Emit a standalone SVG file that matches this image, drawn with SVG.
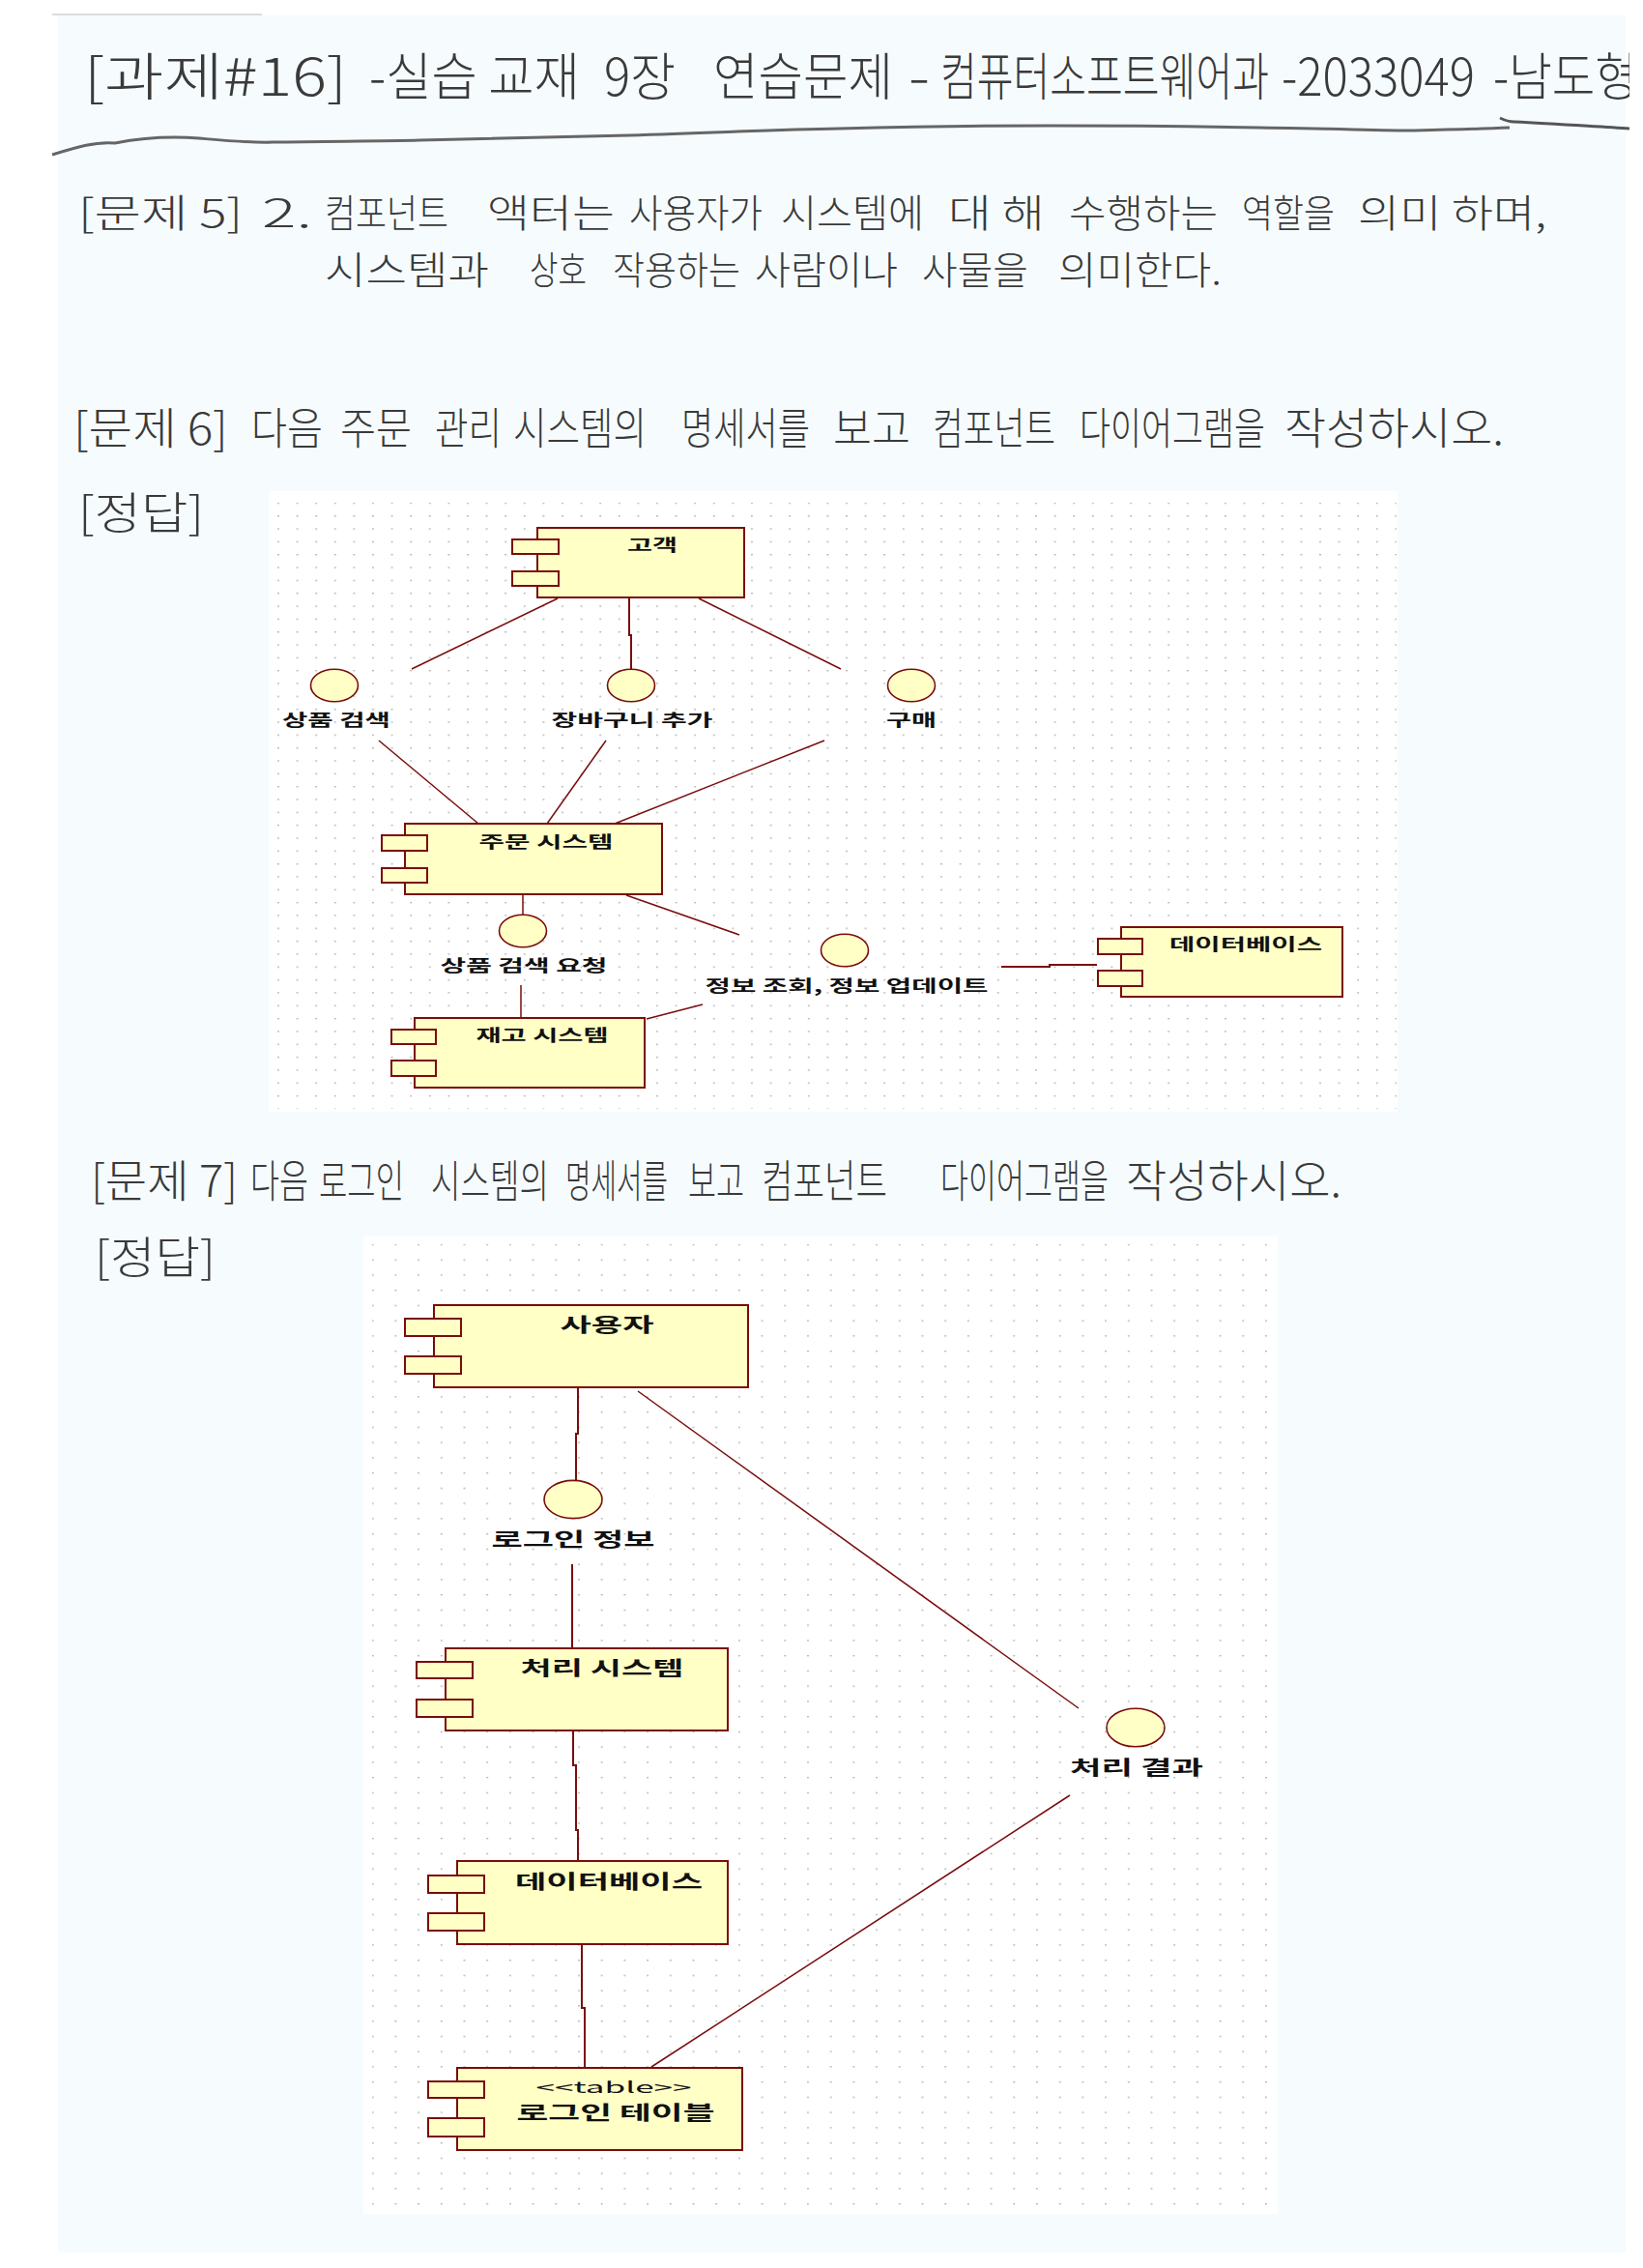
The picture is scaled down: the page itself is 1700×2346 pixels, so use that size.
<svg xmlns="http://www.w3.org/2000/svg" width="1700" height="2346" viewBox="0 0 1700 2346">
<defs>
<style>
.hw{font-family:"Noto Sans CJK KR","Noto Sans",sans-serif;font-weight:300;fill:#3a3a3a}
.box{fill:#ffffc6;stroke:#7a0d0d;stroke-width:2}
.ifc{fill:#ffffc6;stroke:#7a0d0d;stroke-width:1.6}
.lbl{font-family:"Noto Sans CJK KR","Noto Sans",sans-serif;font-weight:700;fill:#111;text-anchor:middle}
.l1{font-size:17px}
.l2{font-size:20px}
.cn{fill:none;stroke:#7a0d0d;stroke-width:1.5}
.cn2{fill:none;stroke:#7a0d0d;stroke-width:2}
</style>
<pattern id="g1" x="287" y="519.7" width="19.6" height="13.33" patternUnits="userSpaceOnUse"><rect width="2" height="1.4" fill="#b8b8b8"/></pattern>
<pattern id="g2" x="384.7" y="1286.7" width="23.7" height="15.75" patternUnits="userSpaceOnUse"><rect width="2" height="1.4" fill="#b8b8b8"/></pattern>
<clipPath id="pg"><rect x="0" y="0" width="1686" height="2346"/></clipPath>
</defs>
<rect width="1700" height="2346" fill="#ffffff"/>
<rect x="60" y="16" width="1622" height="2314" fill="#f6fcfe"/>
<line x1="54" y1="15" x2="271" y2="15" stroke="#dcdcdc" stroke-width="2"/>

<!-- handwritten header -->
<g clip-path="url(#pg)">
<text class="hw" font-size="38" y="99" transform="matrix(1,0,0,1.42,0,-41.58)"><tspan x="87" textLength="272" lengthAdjust="spacingAndGlyphs">[과제#16]</tspan><tspan x="382" textLength="218" lengthAdjust="spacingAndGlyphs">-실습 교재</tspan><tspan x="625" textLength="74" lengthAdjust="spacingAndGlyphs">9장</tspan><tspan x="738" textLength="186" lengthAdjust="spacingAndGlyphs">연습문제</tspan><tspan x="940" textLength="22" lengthAdjust="spacingAndGlyphs">-</tspan><tspan x="973" textLength="340" lengthAdjust="spacingAndGlyphs">컴퓨터소프트웨어과</tspan><tspan x="1326" textLength="200" lengthAdjust="spacingAndGlyphs">-2033049</tspan><tspan x="1545" textLength="150" lengthAdjust="spacingAndGlyphs">-남도형</tspan></text>
</g>
<path d="M54,160 C80,152 100,146 119,148 C150,142 180,141 206,143 C240,146 260,148 282,147 C350,146 400,146 434,145 C520,143 600,141 651,140 C750,137 800,134 868,133 C950,131 1020,130 1085,130 C1180,130 1250,131 1302,132 C1380,133 1430,135 1464,135 C1510,134 1540,133 1562,132" fill="none" stroke="#666" stroke-width="3"/>
<path d="M1552,122 C1558,125 1562,126 1567,126 C1610,128 1650,131 1686,133" fill="none" stroke="#555" stroke-width="3"/>

<text class="hw" font-size="36" y="235" transform="matrix(1,0,0,1.11,0,-25.85)"><tspan x="81" textLength="170" lengthAdjust="spacingAndGlyphs">[문제 5]</tspan><tspan x="271" textLength="52" lengthAdjust="spacingAndGlyphs">2.</tspan><tspan x="336" textLength="128" lengthAdjust="spacingAndGlyphs">컴포넌트</tspan><tspan x="504" textLength="132" lengthAdjust="spacingAndGlyphs">액터는</tspan><tspan x="651" textLength="138" lengthAdjust="spacingAndGlyphs">사용자가</tspan><tspan x="808" textLength="148" lengthAdjust="spacingAndGlyphs">시스템에</tspan><tspan x="981" textLength="100" lengthAdjust="spacingAndGlyphs">대 해</tspan><tspan x="1106" textLength="154" lengthAdjust="spacingAndGlyphs">수행하는</tspan><tspan x="1285" textLength="96" lengthAdjust="spacingAndGlyphs">역할을</tspan><tspan x="1405" textLength="195" lengthAdjust="spacingAndGlyphs">의미 하며,</tspan></text>
<text class="hw" font-size="36" y="294" transform="matrix(1,0,0,1.11,0,-32.34)"><tspan x="336" textLength="170" lengthAdjust="spacingAndGlyphs">시스템과</tspan><tspan x="548" textLength="59" lengthAdjust="spacingAndGlyphs">상호</tspan><tspan x="634" textLength="132" lengthAdjust="spacingAndGlyphs">작용하는</tspan><tspan x="781" textLength="148" lengthAdjust="spacingAndGlyphs">사람이나</tspan><tspan x="954" textLength="110" lengthAdjust="spacingAndGlyphs">사물을</tspan><tspan x="1095" textLength="169" lengthAdjust="spacingAndGlyphs">의미한다.</tspan></text>

<text class="hw" font-size="35" y="460" transform="matrix(1,0,0,1.31,0,-142.6)"><tspan x="76" textLength="160" lengthAdjust="spacingAndGlyphs">[문제 6]</tspan><tspan x="260" textLength="74" lengthAdjust="spacingAndGlyphs">다음</tspan><tspan x="352" textLength="74" lengthAdjust="spacingAndGlyphs">주문</tspan><tspan x="450" textLength="69" lengthAdjust="spacingAndGlyphs">관리</tspan><tspan x="531" textLength="138" lengthAdjust="spacingAndGlyphs">시스템의</tspan><tspan x="705" textLength="133" lengthAdjust="spacingAndGlyphs">명세서를</tspan><tspan x="862" textLength="80" lengthAdjust="spacingAndGlyphs">보고</tspan><tspan x="965" textLength="127" lengthAdjust="spacingAndGlyphs">컴포넌트</tspan><tspan x="1117" textLength="192" lengthAdjust="spacingAndGlyphs">다이어그램을</tspan><tspan x="1329" textLength="227" lengthAdjust="spacingAndGlyphs">작성하시오.</tspan></text>
<text class="hw" font-size="46" x="81" y="547" textLength="130" lengthAdjust="spacingAndGlyphs">[정답]</text>

<text class="hw" font-size="31" y="1238" transform="matrix(1,0,0,1.48,0,-594.24)"><tspan x="94" textLength="152" lengthAdjust="spacingAndGlyphs">[문제 7]</tspan><tspan x="259" textLength="60" lengthAdjust="spacingAndGlyphs">다음</tspan><tspan x="330" textLength="88" lengthAdjust="spacingAndGlyphs">로그인</tspan><tspan x="446" textLength="122" lengthAdjust="spacingAndGlyphs">시스템의</tspan><tspan x="585" textLength="106" lengthAdjust="spacingAndGlyphs">명세서를</tspan><tspan x="712" textLength="58" lengthAdjust="spacingAndGlyphs">보고</tspan><tspan x="788" textLength="130" lengthAdjust="spacingAndGlyphs">컴포넌트</tspan><tspan x="973" textLength="174" lengthAdjust="spacingAndGlyphs">다이어그램을</tspan><tspan x="1165" textLength="223" lengthAdjust="spacingAndGlyphs">작성하시오.</tspan></text>
<text class="hw" font-size="46" x="98" y="1317" textLength="125" lengthAdjust="spacingAndGlyphs">[정답]</text>

<!-- diagram 1 canvas -->
<rect x="278" y="508" width="1168" height="642" fill="#ffffff"/>
<rect x="287" y="519.7" width="1158" height="627" fill="url(#g1)"/>
<!-- diagram 2 canvas -->
<rect x="376" y="1279" width="946" height="1011" fill="#ffffff"/>
<rect x="384.7" y="1286.7" width="928" height="995" fill="url(#g2)"/>

<g id="connectors">
<line class="cn" x1="577" y1="619" x2="426" y2="692"/>
<polyline class="cn2" points="651,619 651,657 653,657 653,693"/>
<line class="cn" x1="723" y1="619" x2="870" y2="692"/>
<line class="cn" x1="392" y1="766" x2="495" y2="852"/>
<line class="cn" x1="627" y1="766" x2="566" y2="852"/>
<line class="cn" x1="853" y1="766" x2="636" y2="852"/>
<line class="cn" x1="541" y1="925" x2="541" y2="947"/>
<line class="cn" x1="539" y1="1019" x2="539" y2="1053"/>
<line class="cn" x1="648" y1="926" x2="765" y2="967"/>
<line class="cn" x1="727" y1="1039" x2="669" y2="1054"/>
<polyline class="cn2" points="1036,1000 1086,1000 1086,998 1135,998"/>
<polyline class="cn2" points="598,1435 598,1483 596,1483 596,1532"/>
<line class="cn2" x1="592" y1="1618" x2="592" y2="1705"/>
<line class="cn" x1="660" y1="1439" x2="1116" y2="1767"/>
<polyline class="cn2" points="593,1790 593,1826 596,1826 596,1893 598,1893 598,1925"/>
<polyline class="cn2" points="602,2011 602,2077 605,2077 605,2139"/>
<line class="cn" x1="1107" y1="1857" x2="674" y2="2138"/>
</g>

<!-- diagram 1 nodes -->
<g id="customer">
<rect class="box" x="556" y="546" width="214" height="72"/>
<rect class="box" x="530" y="558" width="48" height="15"/>
<rect class="box" x="530" y="591" width="48" height="15"/>
<text class="lbl l1" x="675" y="570" textLength="52" lengthAdjust="spacingAndGlyphs">고객</text>
</g>
<g id="if-search">
<ellipse class="ifc" cx="346" cy="709" rx="24.5" ry="16.7"/>
<text class="lbl l1" x="348" y="751" textLength="112" lengthAdjust="spacingAndGlyphs">상품 검색</text>
</g>
<g id="if-cart">
<ellipse class="ifc" cx="653" cy="709" rx="24.5" ry="16.7"/>
<text class="lbl l1" x="654" y="751" textLength="167" lengthAdjust="spacingAndGlyphs">장바구니 추가</text>
</g>
<g id="if-buy">
<ellipse class="ifc" cx="943" cy="709" rx="24.5" ry="16.7"/>
<text class="lbl l1" x="943" y="751" textLength="52" lengthAdjust="spacingAndGlyphs">구매</text>
</g>
<g id="order-system">
<rect class="box" x="419" y="852" width="266" height="73"/>
<rect class="box" x="395" y="864" width="47" height="16"/>
<rect class="box" x="395" y="898" width="47" height="15"/>
<text class="lbl l1" x="565" y="877" textLength="139" lengthAdjust="spacingAndGlyphs">주문 시스템</text>
</g>
<g id="if-search-req">
<ellipse class="ifc" cx="541" cy="963" rx="24.5" ry="16.7"/>
<text class="lbl l1" x="542" y="1005" textLength="173" lengthAdjust="spacingAndGlyphs">상품 검색 요청</text>
</g>
<g id="if-info">
<ellipse class="ifc" cx="874" cy="983" rx="24.5" ry="16.7"/>
<text class="lbl l1" x="876" y="1026" textLength="293" lengthAdjust="spacingAndGlyphs">정보 조회, 정보 업데이트</text>
</g>
<g id="stock-system">
<rect class="box" x="429" y="1053" width="238" height="72"/>
<rect class="box" x="405" y="1065" width="46" height="15"/>
<rect class="box" x="405" y="1097" width="46" height="16"/>
<text class="lbl l1" x="561" y="1077" textLength="137" lengthAdjust="spacingAndGlyphs">재고 시스템</text>
</g>
<g id="database1">
<rect class="box" x="1160" y="959" width="229" height="72"/>
<rect class="box" x="1136" y="971" width="46" height="16"/>
<rect class="box" x="1136" y="1004" width="46" height="16"/>
<text class="lbl l1" x="1289" y="983" textLength="158" lengthAdjust="spacingAndGlyphs">데이터베이스</text>
</g>

<!-- diagram 2 nodes -->
<g id="user">
<rect class="box" x="449" y="1350" width="325" height="85"/>
<rect class="box" x="419" y="1364" width="58" height="18"/>
<rect class="box" x="419" y="1403" width="58" height="18"/>
<text class="lbl l2" x="628" y="1378" textLength="97" lengthAdjust="spacingAndGlyphs">사용자</text>
</g>
<g id="if-login">
<ellipse class="ifc" cx="593" cy="1551" rx="30" ry="19.6"/>
<text class="lbl l2" x="593" y="1600" textLength="169" lengthAdjust="spacingAndGlyphs">로그인 정보</text>
</g>
<g id="process-system">
<rect class="box" x="461" y="1705" width="292" height="85"/>
<rect class="box" x="431" y="1719" width="58" height="17"/>
<rect class="box" x="431" y="1758" width="58" height="18"/>
<text class="lbl l2" x="623" y="1733" textLength="169" lengthAdjust="spacingAndGlyphs">처리 시스템</text>
</g>
<g id="if-result">
<ellipse class="ifc" cx="1175" cy="1787" rx="30" ry="19.8"/>
<text class="lbl l2" x="1176" y="1836" textLength="138" lengthAdjust="spacingAndGlyphs">처리 결과</text>
</g>
<g id="database2">
<rect class="box" x="473" y="1925" width="280" height="86"/>
<rect class="box" x="443" y="1940" width="58" height="18"/>
<rect class="box" x="443" y="1979" width="58" height="18"/>
<text class="lbl l2" x="630" y="1954" textLength="194" lengthAdjust="spacingAndGlyphs">데이터베이스</text>
</g>
<g id="login-table">
<rect class="box" x="473" y="2139" width="295" height="85"/>
<rect class="box" x="443" y="2153" width="58" height="17"/>
<rect class="box" x="443" y="2191" width="58" height="19"/>
<text class="lbl" x="635" y="2165" font-size="16" textLength="161" lengthAdjust="spacingAndGlyphs" style="font-weight:400">&lt;&lt;table&gt;&gt;</text>
<text class="lbl l2" x="637" y="2193" textLength="205" lengthAdjust="spacingAndGlyphs">로그인 테이블</text>
</g>
</svg>
